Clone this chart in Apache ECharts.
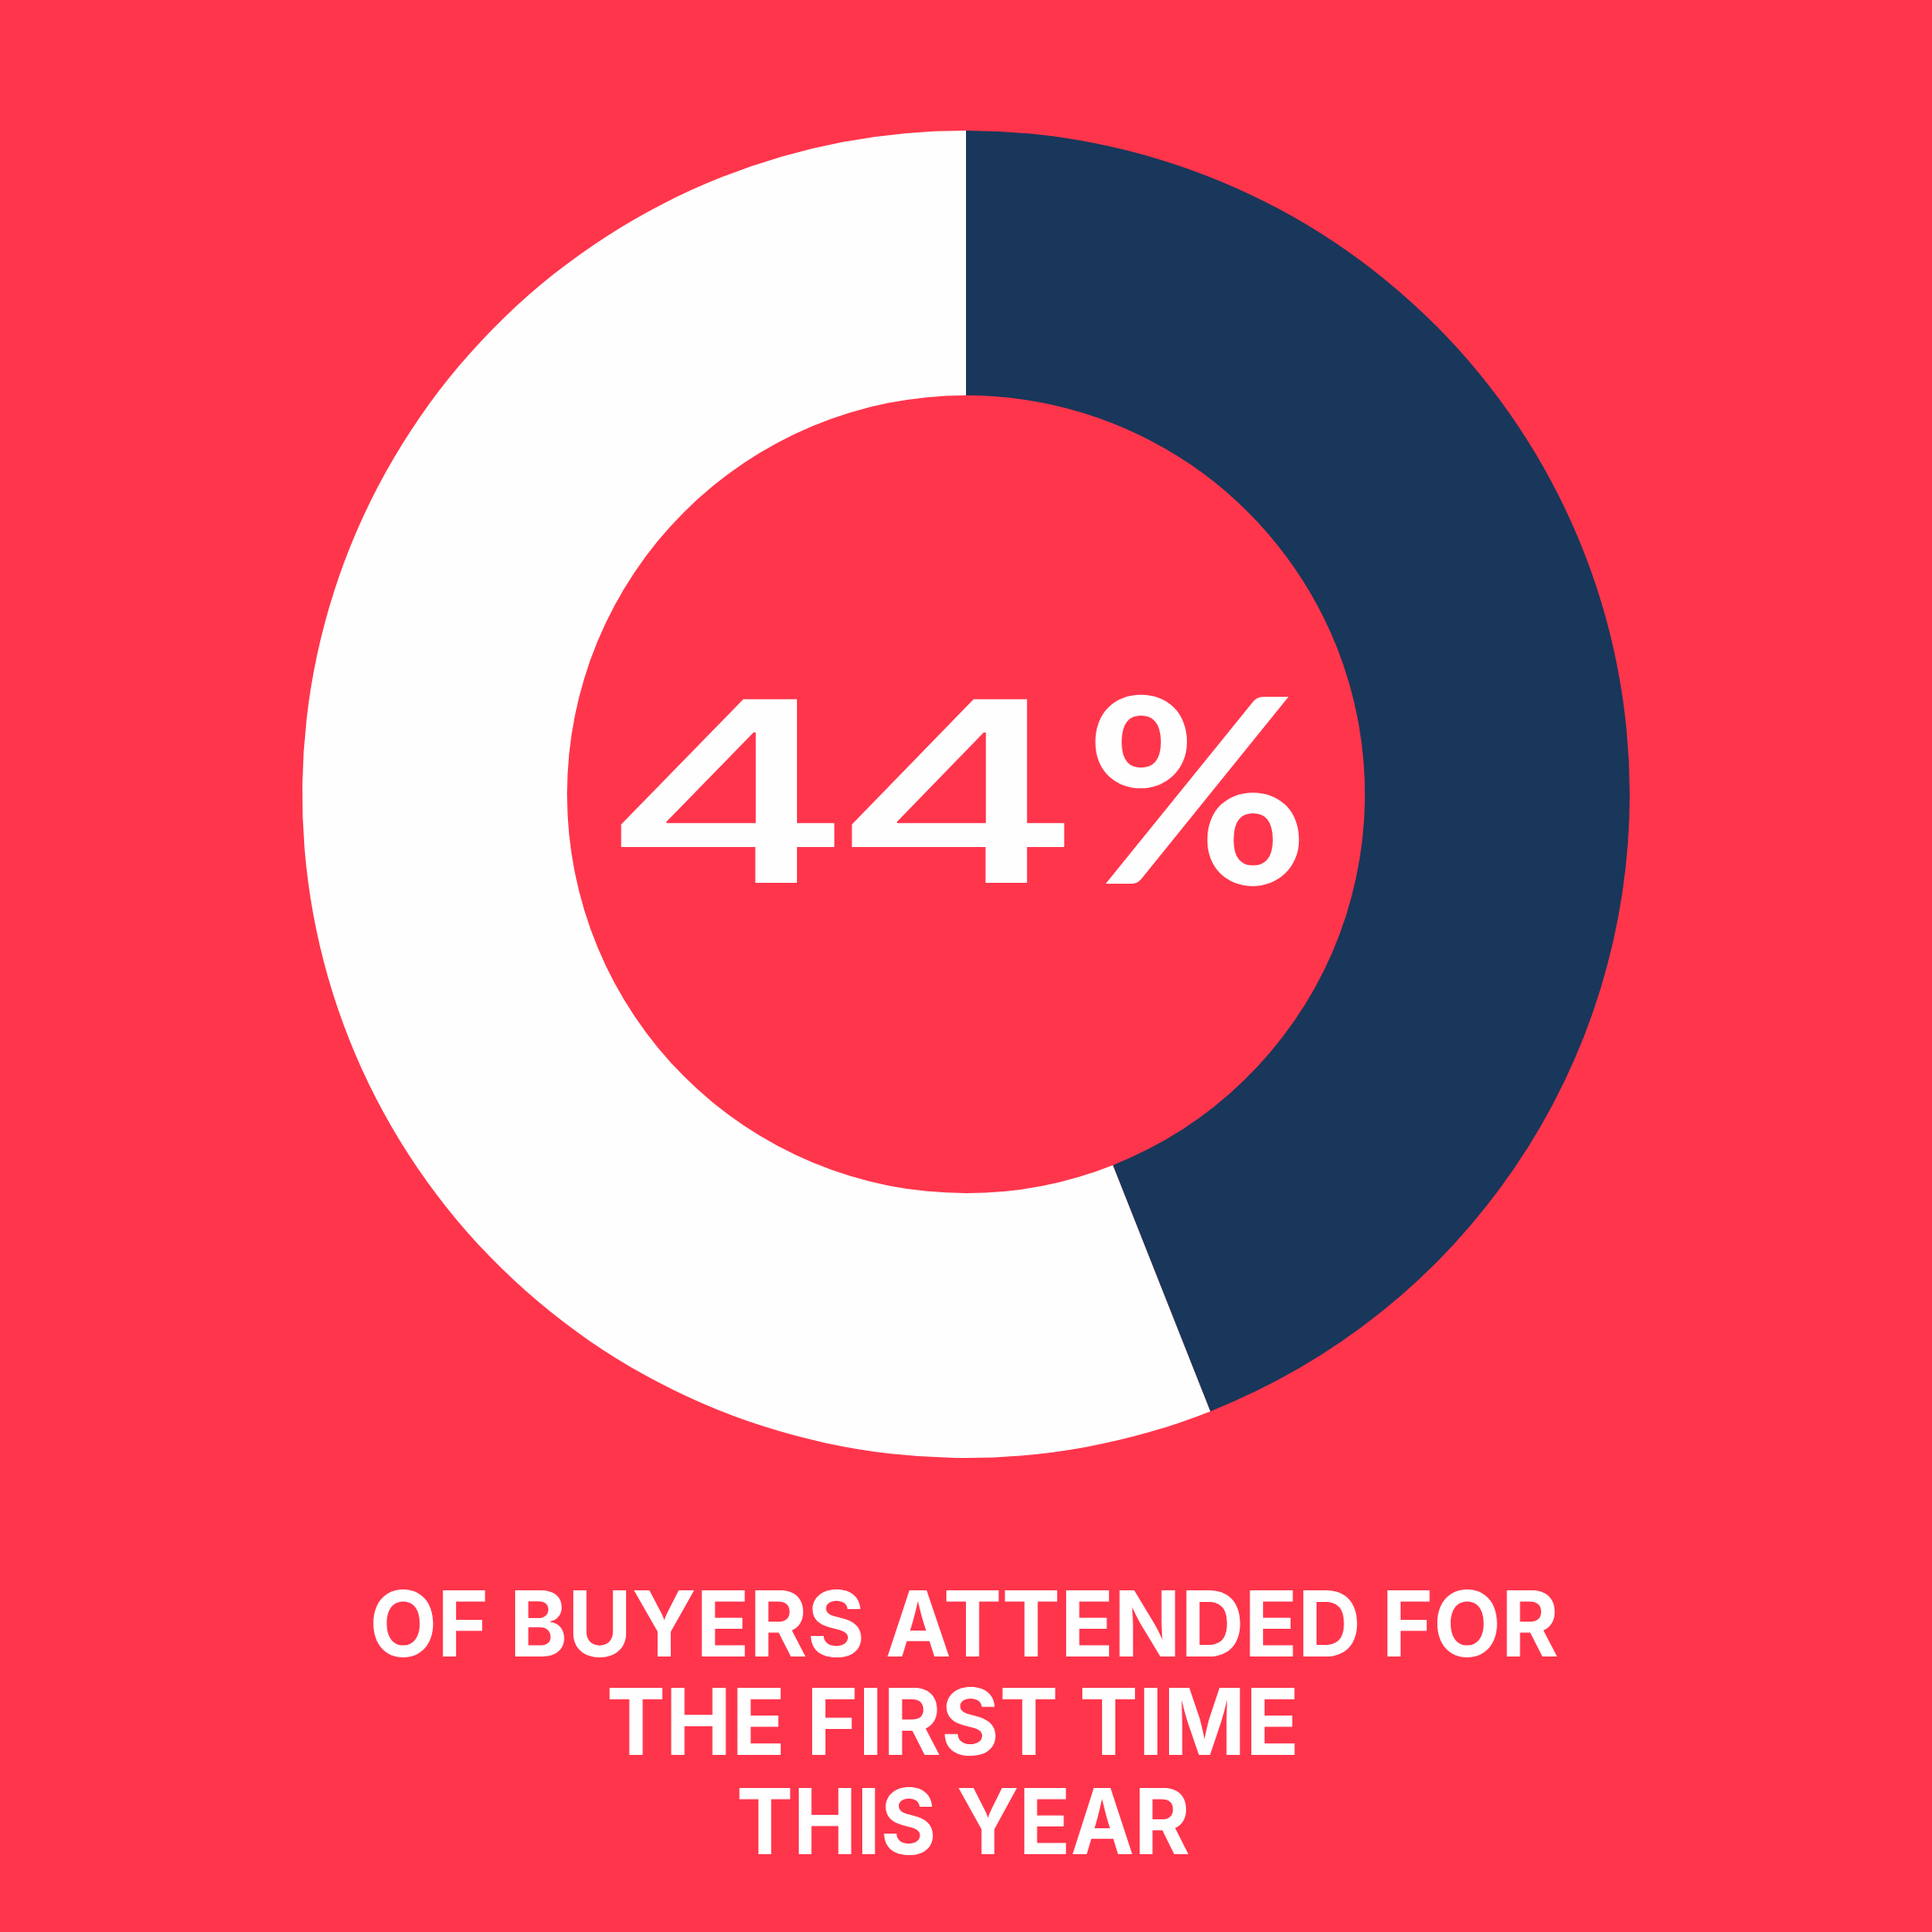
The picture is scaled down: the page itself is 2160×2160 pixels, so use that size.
<!DOCTYPE html>
<html>
<head>
<meta charset="utf-8">
<script src="https://cdn.jsdelivr.net/npm/echarts@6/dist/echarts.min.js"></script>
<style>
  html, body { margin: 0; padding: 0; background: #FF354C; }
  #chart { width: 2160px; height: 2160px; }
</style>
</head>
<body>
<div id="chart"></div>
<script>
// ---- data ----
const categories = ['Attended for the first time', 'Attended before'];
const values = [44, 56];
const captionLines = ['OF BUYERS ATTENDED FOR', 'THE FIRST TIME', 'THIS YEAR'];

// ---- styling ----
const BG = '#FF354C';
const NAVY = '#18375A';
const WHITE = '#FEFEFE';

const total = values.reduce((a, b) => a + b, 0);
const centerLabel = Math.round(values[0] / total * 100) + '%';

// measure ink extents at 100px with middle baseline (zrender uses middle baseline)
const mctx = document.createElement('canvas').getContext('2d');
function measure(str, weight, family) {
  mctx.font = weight + ' 100px ' + family;
  mctx.textBaseline = 'middle';
  mctx.textAlign = 'left';
  return mctx.measureText(str);
}
// fit text ink box into [L,R] x [T,B]; vertical measured on refStr
function fitText(str, refStr, weight, family, L, R, T, B) {
  const m = measure(str, weight, family);
  const r = measure(refStr, weight, family);
  const inkW = m.actualBoundingBoxLeft + m.actualBoundingBoxRight;
  const inkH = r.actualBoundingBoxAscent + r.actualBoundingBoxDescent;
  const sx = (R - L) / inkW;
  const sy = (B - T) / inkH;
  return {
    type: 'text',
    x: L + m.actualBoundingBoxLeft * sx,
    y: T + r.actualBoundingBoxAscent * sy,
    scaleX: sx,
    scaleY: sy,
    silent: true,
    style: {
      text: str, x: 0, y: 0,
      fill: WHITE,
      fontSize: 100, fontWeight: weight, fontFamily: family,
      align: 'left', textAlign: 'left',
      verticalAlign: 'middle', textVerticalAlign: 'middle'
    }
  };
}

// ink boxes of each glyph of the centre label, and of each caption line
const labelBoxes = [
  [692, 936, 781, 987],
  [950, 1193, 781, 987],
  [1222, 1455, 777, 991]
];
const labelFonts = [
  [500, 'Inter'],
  [500, 'Inter'],
  [700, 'Lato']
];
const capBoxes = [
  [417, 1741, 1778, 1852],
  [681, 1448, 1887, 1962],
  [826, 1329, 1999, 2073]
];

const graphics = [];
Array.from(centerLabel).forEach((ch, i) => {
  const b = labelBoxes[i];
  const f = labelFonts[i];
  graphics.push(fitText(ch, ch, f[0], f[1], b[0], b[1], b[2], b[3]));
});
captionLines.forEach((line, i) => {
  const b = capBoxes[i];
  graphics.push(fitText(line, 'H', 700, 'Inter', b[0], b[1], b[2], b[3]));
});

const chart = echarts.init(document.getElementById('chart'), null, { renderer: 'canvas' });
chart.setOption({
  backgroundColor: BG,
  animation: false,
  series: [{
    type: 'pie',
    center: [1080, 888],
    radius: [446, 742],
    startAngle: 90,
    clockwise: true,
    silent: true,
    label: { show: false },
    labelLine: { show: false },
    itemStyle: { borderWidth: 0 },
    emphasis: { disabled: true },
    data: categories.map((c, i) => ({
      name: c,
      value: values[i],
      itemStyle: { color: i === 0 ? NAVY : WHITE }
    }))
  }],
  graphic: { elements: graphics }
});
</script>
</body>
</html>
